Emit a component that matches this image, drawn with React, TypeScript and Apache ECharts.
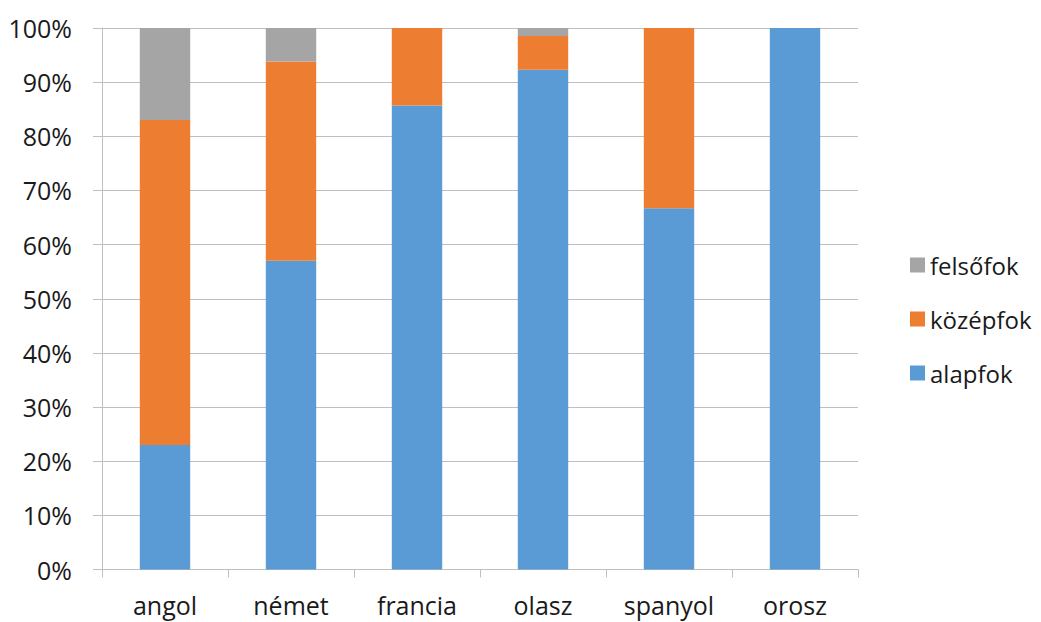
import React, { useEffect, useRef } from "react";
import * as echarts from "echarts";

const categories = ["angol", "német", "francia", "olasz", "spanyol", "orosz"];
const alapfok = [23.0, 57.0, 85.7, 92.3, 66.7, 100];
const kozepfok = [60.0, 36.8, 14.3, 6.2, 33.3, 0];
const felsofok = [17.0, 6.2, 0, 1.5, 0, 0];
const legendOrder = ["felsőfok", "középfok", "alapfok"];

const FONT = "Open Sans";
const TEXT = "#1a1a1a";
const GRID = "#bfbfbf";

export default function App() {
  const ref = useRef<HTMLDivElement>(null);
  useEffect(() => {
    document.body.style.margin = "0";
    const chart = echarts.init(ref.current!, undefined, { renderer: "svg" });
    chart.setOption({
      animation: false,
      backgroundColor: "#ffffff",
      textStyle: { fontFamily: FONT },
      grid: { left: 102, right: 183, top: 28, bottom: 52.5, containLabel: false },
      legend: {
        orient: "vertical",
        left: 905,
        top: 248,
        itemWidth: 15,
        itemHeight: 15,
        itemGap: 30,
        icon: "rect",
        data: legendOrder,
        textStyle: { fontFamily: FONT, fontSize: 24, color: TEXT, padding: [0, 0, 0, 0] },
      },
      xAxis: {
        type: "category",
        data: categories,
        axisLine: { show: true, lineStyle: { color: GRID, width: 1 } },
        axisTick: { show: true, alignWithLabel: false, length: 8, lineStyle: { color: GRID } },
        axisLabel: { fontFamily: FONT, fontSize: 25, color: TEXT, margin: 23 },
        splitLine: { show: false },
      },
      yAxis: {
        type: "value",
        min: 0,
        max: 100,
        interval: 10,
        axisLine: { show: true, lineStyle: { color: GRID, width: 1 } },
        axisTick: { show: true, length: 9, lineStyle: { color: GRID } },
        axisLabel: { fontFamily: FONT, fontSize: 25, color: TEXT, margin: 30, formatter: "{value}%" },
        splitLine: { show: true, lineStyle: { color: GRID, width: 1 } },
      },
      series: [
        { name: "alapfok", type: "bar", stack: "all", data: alapfok, barWidth: "40%", itemStyle: { color: "#5B9BD5" } },
        { name: "középfok", type: "bar", stack: "all", data: kozepfok, barWidth: "40%", itemStyle: { color: "#ED7D31" } },
        { name: "felsőfok", type: "bar", stack: "all", data: felsofok, barWidth: "40%", itemStyle: { color: "#A5A5A5" } },
      ],
    });
    return () => chart.dispose();
  }, []);
  return <div ref={ref} style={{ position: "fixed", left: 0, top: 0, width: 1041, height: 622 }} />;
}
